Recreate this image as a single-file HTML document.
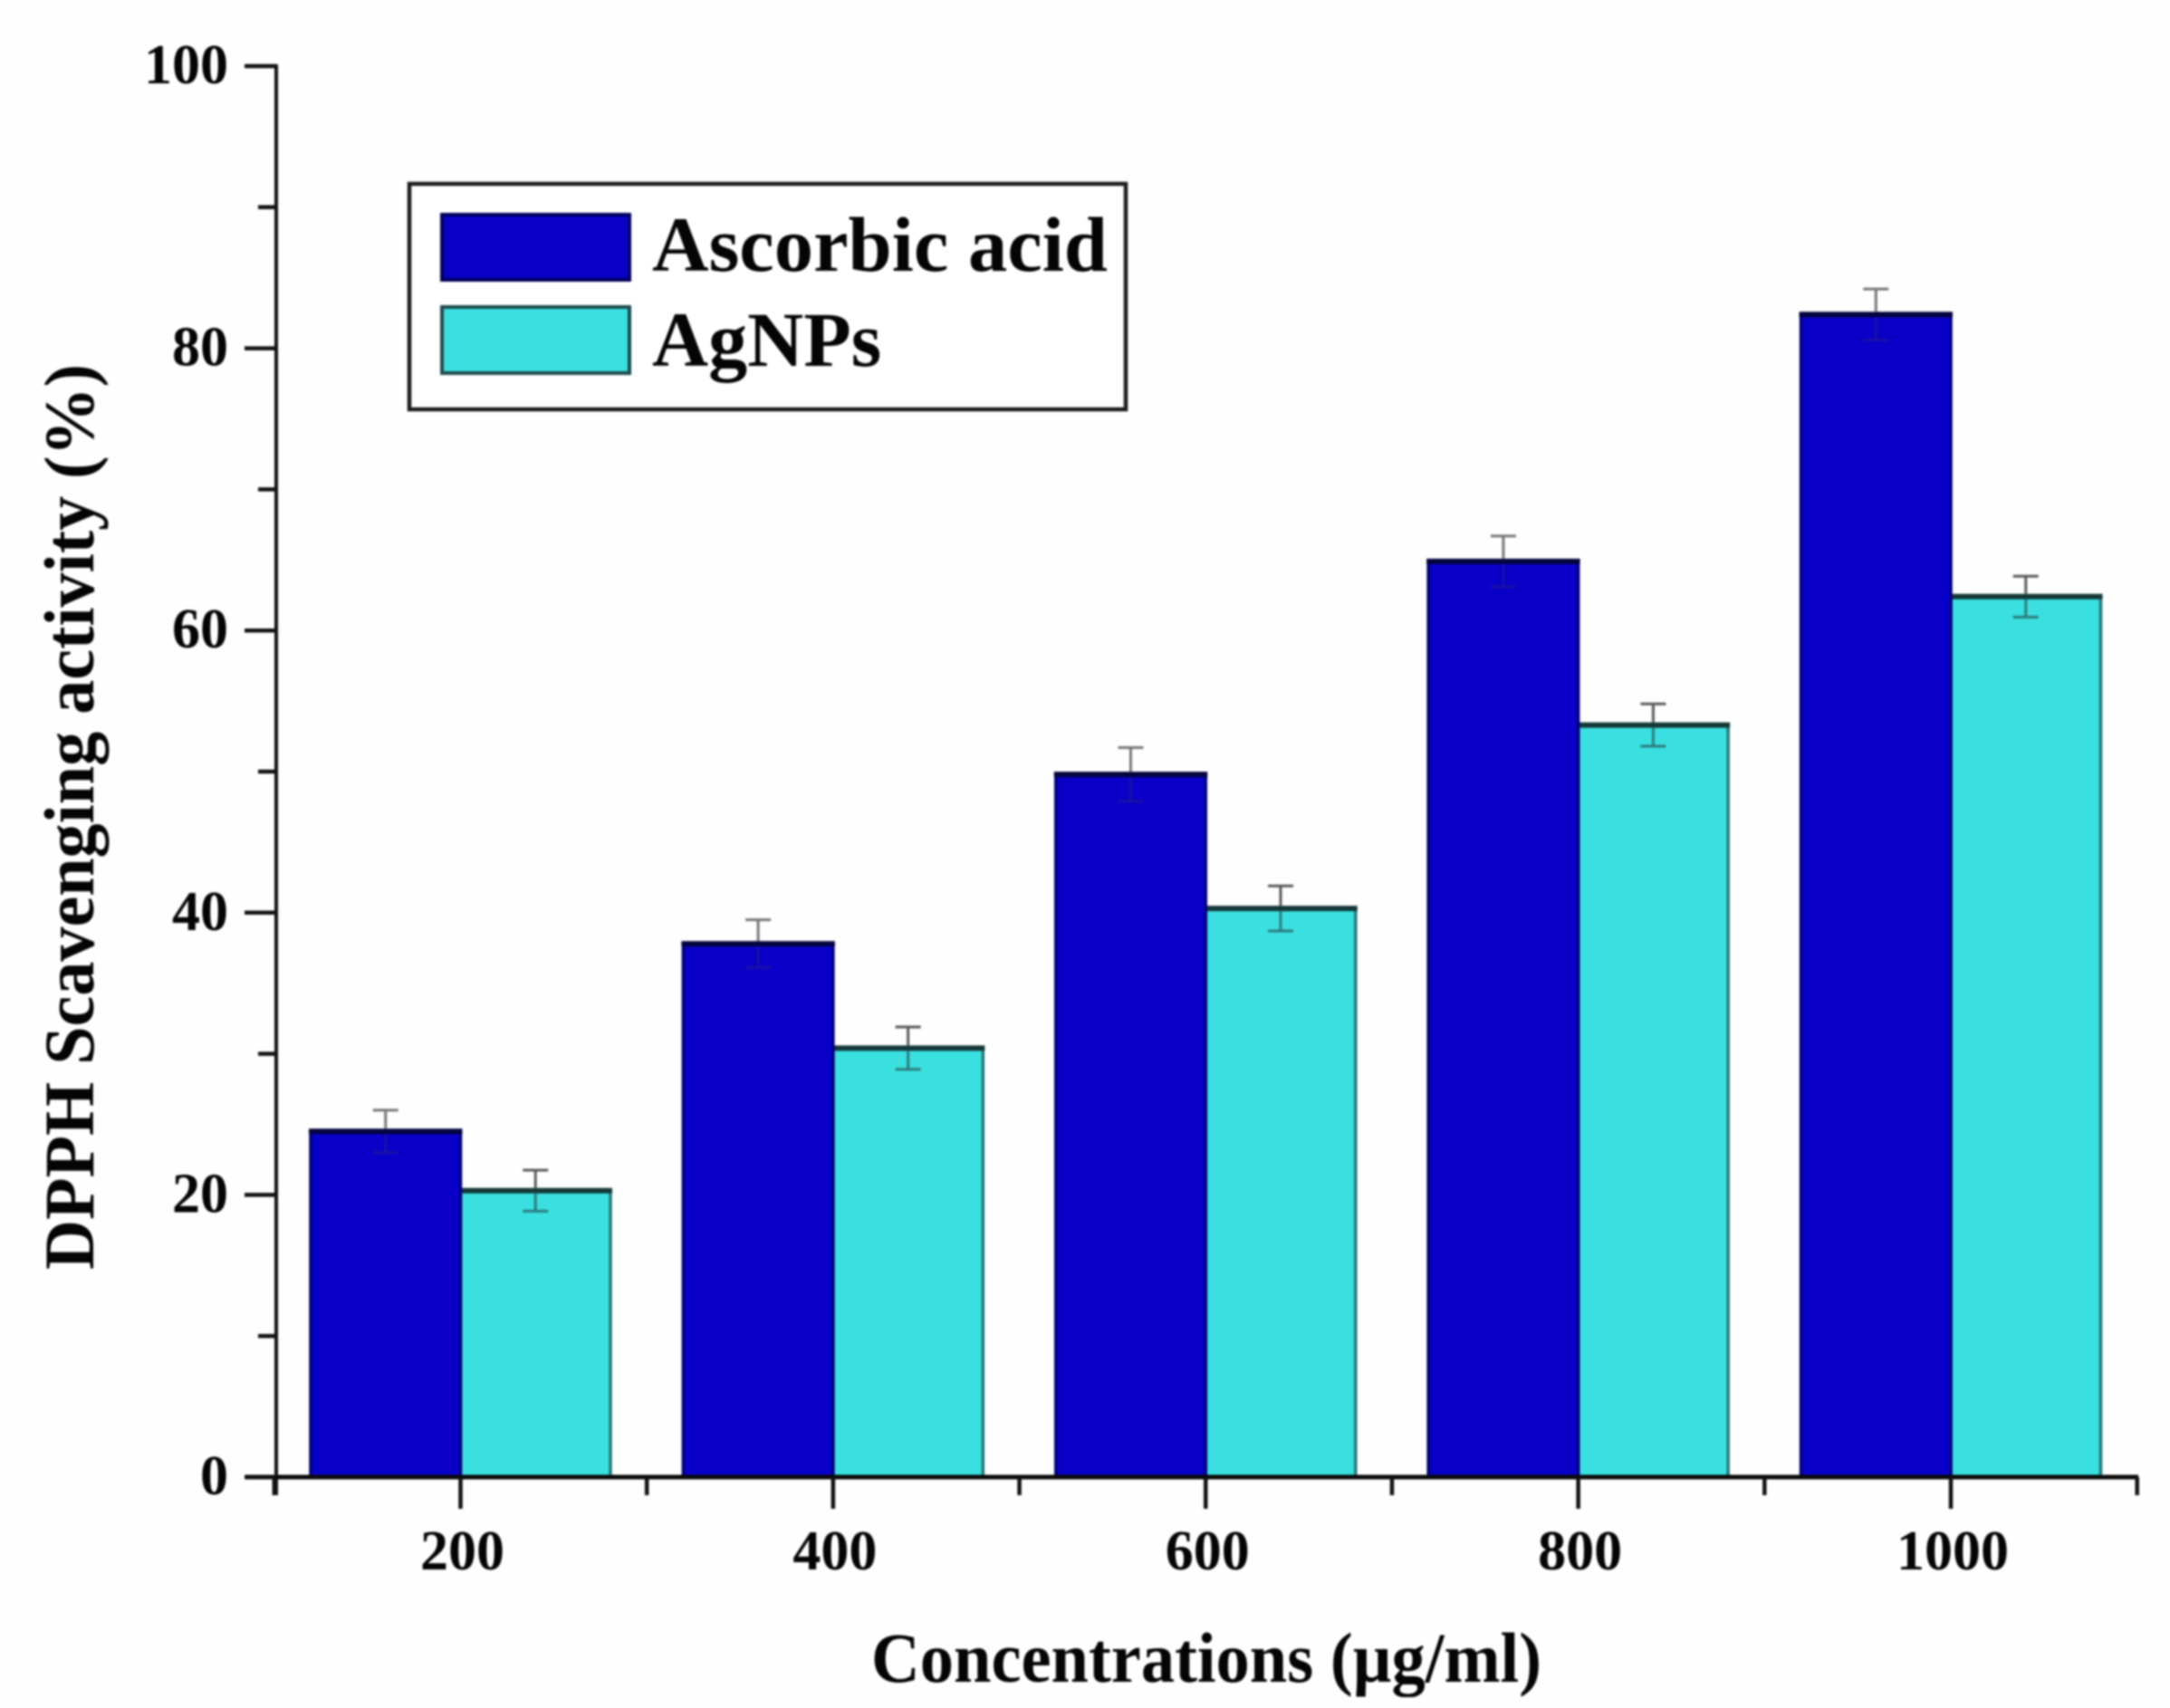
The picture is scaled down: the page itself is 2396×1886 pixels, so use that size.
<!DOCTYPE html>
<html lang="en">
<head>
<meta charset="utf-8">
<title>DPPH Scavenging activity</title>
<style>
html,body{margin:0;padding:0;background:#fefefe;width:2396px;height:1886px;overflow:hidden}
svg{display:block;filter:blur(1.1px)}
text{font-family:"Liberation Serif",serif;font-weight:bold;fill:#050505}
</style>
</head>
<body>
<svg id="chart" xmlns="http://www.w3.org/2000/svg" width="2396" height="1886" viewBox="0 0 2396 1886">
  <g id="bars"></g>
  <g id="errors"></g>
  <g id="axes"></g>
  <text x="962" y="1857" font-size="78" textLength="740" lengthAdjust="spacingAndGlyphs">Concentrations (µg/ml)</text>
  <text transform="translate(103,1402) rotate(-90)" font-size="78" textLength="1000" lengthAdjust="spacingAndGlyphs">DPPH Scavenging activity (%)</text>
  <g>
    <rect x="452" y="203" width="791" height="249" fill="#fff" stroke="#1c1c1c" stroke-width="4.5"/>
    <rect x="488" y="237" width="207" height="72" fill="#0800c8" stroke="#00005e" stroke-width="4"/>
    <text x="720" y="299" font-size="86" textLength="503" lengthAdjust="spacingAndGlyphs">Ascorbic acid</text>
    <rect x="488" y="339" width="207" height="73" fill="#3ae0e0" stroke="#1d4a4a" stroke-width="4"/>
    <text x="720" y="404" font-size="86">AgNPs</text>
  </g>
</svg>
<script>
var categories = [200, 400, 600, 800, 1000];
var ascorbicAcid = [24.5, 37.8, 49.8, 64.9, 82.4];
var agnps = [20.3, 30.4, 40.3, 53.3, 62.4];
var ascorbicErr = [1.5, 1.7, 1.9, 1.8, 1.8];
var agnpsErr = [1.45, 1.5, 1.6, 1.5, 1.45];
var yMajorTicks = [0, 20, 40, 60, 80, 100];
var yMinorTicks = [10, 30, 50, 70, 90];
var xMinorTicks = [100, 300, 500, 700, 900, 1100];

var NS = 'http://www.w3.org/2000/svg';
function yScale(v) { return 1631 - v * 15.58; }
function xScale(v) { return 508.5 + (v - 200) * 2.0569; }
var barWidth = 165.5;
var capHalf = 14;

function make(parent, tag, attrs) {
  var el = document.createElementNS(NS, tag);
  for (var k in attrs) { el.setAttribute(k, attrs[k]); }
  parent.appendChild(el);
  return el;
}

var barsLayer = document.getElementById('bars');
var errorsLayer = document.getElementById('errors');
var axesLayer = document.getElementById('axes');

function drawBar(cat, value, left, fill, sideColor, topColor, seriesName) {
  var top = yScale(value);
  var bar = make(barsLayer, 'rect', {x: left, y: top, width: barWidth, height: yScale(0) - top, fill: fill, stroke: sideColor, 'stroke-width': 3.5});
  
  
  var cap = make(barsLayer, 'line', {x1: left - 2, x2: left + barWidth + 2, y1: top, y2: top, stroke: topColor, 'stroke-width': 6});
  
  
}

function drawError(cat, value, err, center, upColor, lowColor, seriesName) {
  var group = make(errorsLayer, 'g', {});
  
  
  var yTop = yScale(value + err);
  var yMid = yScale(value);
  var yLow = yScale(value - err);
  make(group, 'line', {x1: center, x2: center, y1: yTop, y2: yMid - 3, stroke: upColor, 'stroke-width': 3});
  make(group, 'line', {x1: center - capHalf, x2: center + capHalf, y1: yTop, y2: yTop, stroke: upColor, 'stroke-width': 3});
  make(group, 'line', {x1: center, x2: center, y1: yMid + 3, y2: yLow, stroke: lowColor, 'stroke-width': 3});
  make(group, 'line', {x1: center - capHalf, x2: center + capHalf, y1: yLow, y2: yLow, stroke: lowColor, 'stroke-width': 3});
}

categories.forEach(function (cat, i) {
  var c = xScale(cat);
  drawBar(cat, agnps[i], c, '#3ae0e0', '#2a7474', '#163838', 'agnps');
  drawBar(cat, ascorbicAcid[i], c - barWidth, '#0800c8', '#00007c', '#04043e', 'ascorbic-acid');
  drawError(cat, ascorbicAcid[i], ascorbicErr[i], c - barWidth / 2, '#777777', '#1a10a6', 'ascorbic-acid');
  drawError(cat, agnps[i], agnpsErr[i], c + barWidth / 2, '#5a5a5a', '#2e7c7c', 'agnps');
});

var yAxisLine = make(axesLayer, 'line', {x1: 305, x2: 305, y1: yScale(100) - 2, y2: 1651, stroke: '#111', 'stroke-width': 4});



var xAxisLine = make(axesLayer, 'line', {x1: 271, x2: 2361, y1: yScale(0), y2: yScale(0), stroke: '#0a0a0a', 'stroke-width': 5});



yMajorTicks.forEach(function (v) {
  var y = yScale(v);
  var tick = make(axesLayer, 'line', {x1: 270, x2: 305, y1: y, y2: y, stroke: '#111', 'stroke-width': 4.5});
  
  
  var label = make(axesLayer, 'text', {x: 252, y: y + 19, 'text-anchor': 'end', 'font-size': 62});
  
  
  label.textContent = String(v);
});

yMinorTicks.forEach(function (v) {
  var y = yScale(v);
  var tick = make(axesLayer, 'line', {x1: 285, x2: 305, y1: y, y2: y, stroke: '#111', 'stroke-width': 4.5});
  
  
});

categories.forEach(function (v) {
  var x = xScale(v);
  var tick = make(axesLayer, 'line', {x1: x, x2: x, y1: yScale(0), y2: 1666, stroke: '#111', 'stroke-width': 4.5});
  
  
  var label = make(axesLayer, 'text', {x: x + 2, y: 1733, 'text-anchor': 'middle', 'font-size': 62});
  
  
  label.textContent = String(v);
});

xMinorTicks.forEach(function (v) {
  var x = xScale(v);
  var tick = make(axesLayer, 'line', {x1: x, x2: x, y1: yScale(0), y2: 1651, stroke: '#111', 'stroke-width': 4.5});
  
  
});
</script>
</body>
</html>
